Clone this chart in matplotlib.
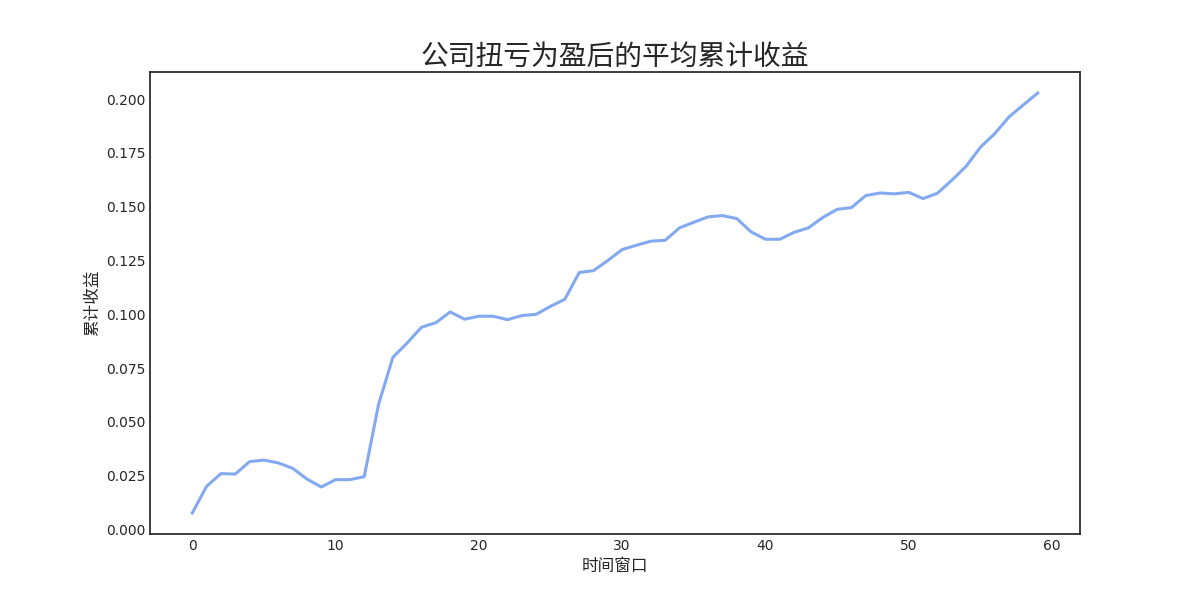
import matplotlib
matplotlib.use("Agg")
import matplotlib.pyplot as plt

windows = list(range(60))
cum_returns = [
    0.0076, 0.0200, 0.0259, 0.0257, 0.0315, 0.0322, 0.0309, 0.0284, 0.0234, 0.0197,
    0.0231, 0.0231, 0.0245, 0.0581, 0.0800, 0.0867, 0.0940, 0.0961, 0.1011, 0.0977,
    0.0991, 0.0991, 0.0975, 0.0994, 0.1000, 0.1037, 0.1070, 0.1194, 0.1203, 0.1250,
    0.1301, 0.1321, 0.1340, 0.1344, 0.1402, 0.1428, 0.1453, 0.1459, 0.1445, 0.1383,
    0.1349, 0.1349, 0.1381, 0.1402, 0.1450, 0.1488, 0.1496, 0.1552, 0.1564, 0.1560,
    0.1567, 0.1538, 0.1563, 0.1623, 0.1688, 0.1777, 0.1840, 0.1918, 0.1974, 0.2029,
]
title = "公司扭亏为盈后的平均累计收益"
xlabel = "时间窗口"
ylabel = "累计收益"

plt.rcParams['font.family'] = ['DejaVu Sans', 'Noto Sans CJK SC']
plt.rcParams['axes.unicode_minus'] = False
text_color = '#262626'
cjk = ['Noto Sans CJK SC', 'DejaVu Sans']

fig, ax = plt.subplots(figsize=(12, 6), dpi=100)
ax.plot(windows, cum_returns, color='#83AAF0', linewidth=2.2)

ax.set_title(title, fontsize=20, color=text_color, family=cjk, pad=3)
ax.set_xlabel(xlabel, fontsize=12, color=text_color, family=cjk, labelpad=4)
ax.set_ylabel(ylabel, fontsize=12, color=text_color, family=cjk, labelpad=3)

ax.tick_params(axis='both', length=0, labelsize=10, labelcolor=text_color, pad=3.5)
for s in ax.spines.values():
    s.set_color('#262626')
    s.set_linewidth(1.25)
ax.grid(False)

fig.savefig('out.png', dpi=100)
